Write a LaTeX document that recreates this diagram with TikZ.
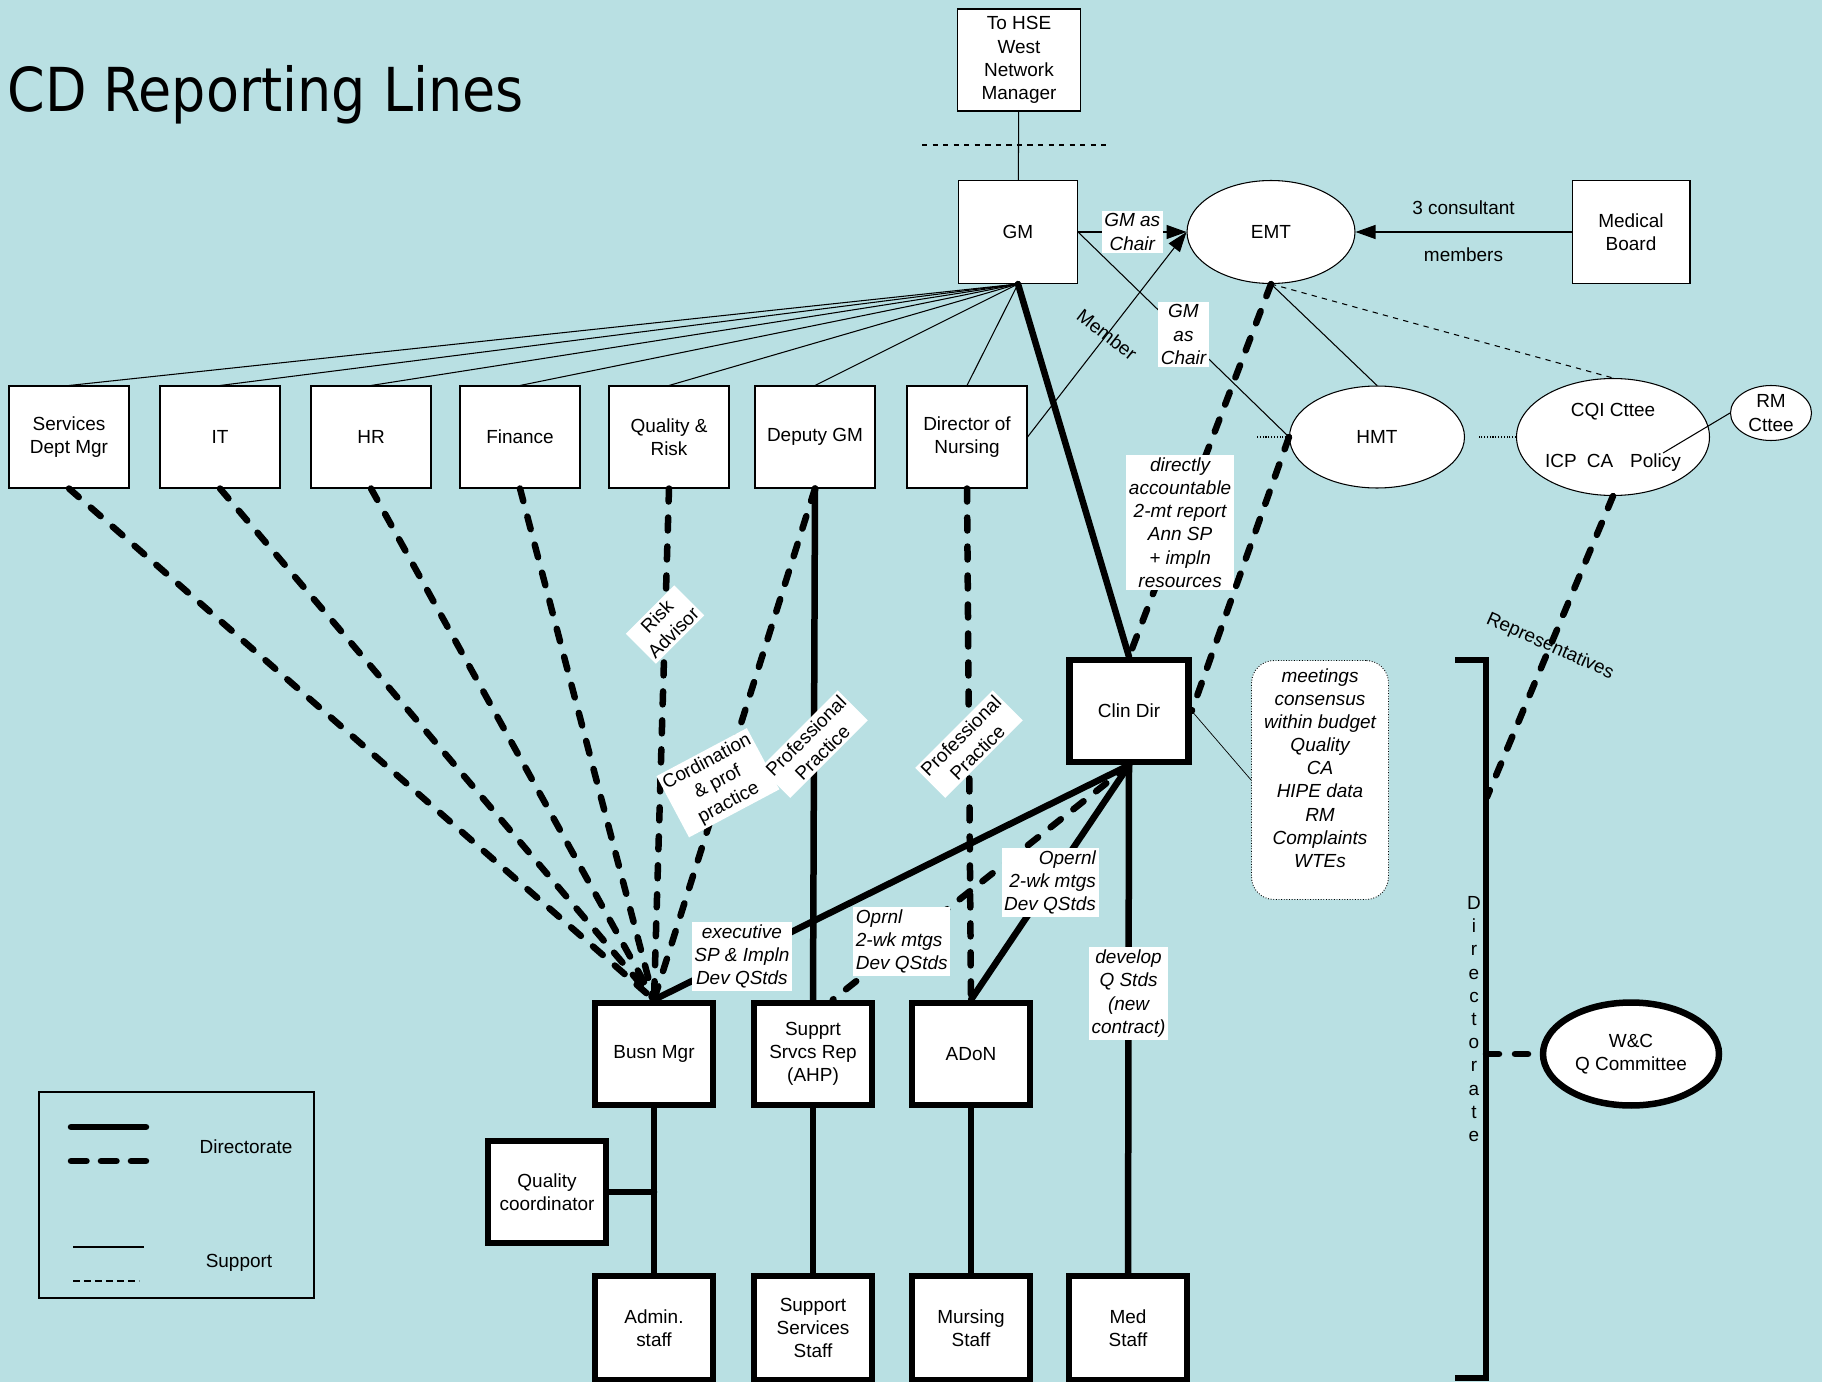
\documentclass[tikz,border=0pt]{standalone}
\usepackage{fontspec}
\setmainfont{Liberation Sans}
\newfontfamily\titlefont{DejaVu Sans}
\usetikzlibrary{shapes.geometric}
\usetikzlibrary{arrows.meta}
\definecolor{sheet}{RGB}{185,224,227}
\newcommand\cdfont{\fontsize{10.8}{13.2}\selectfont}

\begin{document}
\begin{tikzpicture}[x=0.02cm, y=-0.02cm, font=\cdfont,
	thinbox/.style={draw, line width=0.6pt, fill=white, align=center, inner sep=0pt, minimum width=2.4cm, minimum height=2.04cm},
	thickbox/.style={draw, line width=0.13cm, fill=white, align=center, inner sep=0pt, minimum width=2.36cm, minimum height=2.04cm},
	oval/.style={ellipse, draw, line width=0.6pt, fill=white, align=center, inner sep=0pt},
	tag/.style={fill=white, align=center, inner sep=1.5pt, font=\cdfont\itshape},
	plain/.style={fill=white, align=center, inner sep=1.5pt},
	supline/.style={line width=0.6pt},
	headed/.style={-{Triangle[length=0.4cm, width=0.28cm]}},
	dirline/.style={line width=0.13cm, line cap=round},
	dirdash/.style={line width=0.13cm, line cap=round, dash pattern=on 0.26cm off 0.32cm}]
	\fill[sheet] (0,0) rectangle (1822,1382);
	\useasboundingbox (0,0) rectangle (1822,1382);

	\node[anchor=west, inner sep=0pt] (title) at (7,95) {\titlefont\fontsize{34.5}{40}\selectfont\scalebox{0.89}[1]{CD Reporting Lines}};

	\node[thinbox, minimum width=2.46cm] (hse) at (1019,60) {To HSE\\West\\Network\\Manager};
	\node[thinbox, minimum width=2.38cm, minimum height=2.06cm] (gm) at (1018,232) {GM};
	\node[oval, minimum width=3.36cm, minimum height=2.06cm] (emt) at (1271,232) {EMT};
	\node[thinbox, minimum width=2.36cm, minimum height=2.06cm] (mb) at (1631,232) {Medical\\Board};

	\node[thinbox] (sdm) at (69,437) {Services\\Dept Mgr};
	\node[thinbox] (it) at (220,437) {IT};
	\node[thinbox] (hr) at (371,437) {HR};
	\node[thinbox] (fin) at (520,437) {Finance};
	\node[thinbox] (qr) at (669,437) {Quality \&\\Risk};
	\node[thinbox] (dgm) at (815,437) {Deputy GM};
	\node[thinbox] (don) at (967,437) {Director of\\Nursing};

	\node[oval, minimum width=3.5cm, minimum height=2.04cm] (hmt) at (1377,437) {HMT};
	\node[oval, minimum width=3.86cm, minimum height=2.34cm] (cqi) at (1613,437) {CQI Cttee\\[16pt]ICP\hspace{0.2cm}CA\hspace{0.34cm}Policy};
	\coordinate (pol) at (1663,453);
	\node[oval, minimum width=1.62cm, minimum height=1.1cm, label={[align=center]center:RM\\Cttee}] (rm) at (1771,413) {};

	\node[thickbox, minimum width=2.38cm] (cd) at (1129,711) {Clin Dir};
	\node[draw, densely dotted, line width=0.5pt, fill=white, rounded corners=0.45cm, minimum width=2.74cm, minimum height=4.78cm,
		label={[tag, fill=none, yshift=0.24cm]center:meetings\\consensus\\within budget\\Quality\\CA\\HIPE data\\RM\\Complaints\\WTEs}] (notes) at (1320,780) {};

	\node[thickbox] (busn) at (654,1054) {Busn Mgr};
	\node[thickbox] (sup) at (813,1054) {Supprt\\Srvcs Rep\\(AHP)};
	\node[thickbox] (adon) at (971,1054) {ADoN};
	\node[thickbox] (qc) at (547,1192) {Quality\\coordinator};
	\node[thickbox, minimum height=2.08cm] (admin) at (654,1328) {Admin.\\staff};
	\node[thickbox, minimum height=2.08cm] (sss) at (813,1328) {Support\\Services\\Staff};
	\node[thickbox, minimum height=2.08cm] (murs) at (971,1328) {Mursing\\Staff};
	\node[thickbox, minimum height=2.08cm] (med) at (1128,1328) {Med\\Staff};

	\node[oval, line width=0.13cm, minimum width=3.52cm, minimum height=2.06cm] (wc) at (1631,1054) {W\&C\\Q Committee};
	\coordinate (rep) at (1487,797);
	\coordinate (wcj) at (1486,1054);
	\node[align=center, inner sep=0pt] (dirtext) at (1474,1019) {D\\i\\r\\e\\c\\t\\o\\r\\a\\t\\e};

	\draw[supline] (gm) -- (hse);
	\draw[supline, dashed] (922,145) -- (1109,145);
	\foreach \n in {sdm,it,hr,fin,qr,dgm,don}
		\draw[supline] (gm.south) -- (\n.north);
	\draw[supline, headed] (gm.east) -- node[tag] {GM as\\Chair} (emt.west);
	\draw[supline] (gm.east) -- node[tag] {GM\\as\\Chair} (hmt.west);
	\draw[supline, headed] (don.east) -- node[rotate=-38] {Member} (emt.west);
	\draw[supline, headed] (mb) -- node[yshift=0.48cm] {3 consultant} node[yshift=-0.46cm] {members} (emt);
	\draw[supline] (emt.south) -- (hmt.north);
	\draw[supline, dashed] (emt.south) -- (cqi.north);
	\draw[supline, densely dotted] (hmt.west) -- ++(-33,0);
	\draw[supline, densely dotted] (cqi.west) -- ++(-37,0);
	\draw[supline] (rm.west) -- (pol);

	\draw[dirline] (gm.south) -- (cd.north);
	\draw[dirdash] (emt.south) -- node[tag, pos=0.64] {directly\\accountable\\2-mt report\\Ann SP\\+ impln\\resources} (cd.north);
	\draw[dirdash] (hmt.west) -- (cd.east);
	\draw[supline, line width=0.4pt] (cd.east) -- (notes.west);

	\draw[dirdash] (sdm.south) -- (busn.north);
	\draw[dirdash] (it.south) -- (busn.north);
	\draw[dirdash] (hr.south) -- (busn.north);
	\draw[dirdash] (fin.south) -- (busn.north);
	\draw[dirdash] (qr.south) -- node[plain, rotate=45, pos=0.266] {Risk\\Advisor} (busn.north);
	\draw[dirdash] (dgm.south) -- node[plain, rotate=28, pos=0.57, xshift=-0.12cm] {Cordination\\\& prof\\practice} (busn.north);
	\draw[dirline] (dgm.south) -- node[plain, rotate=45] {Professional\\Practice} (sup.north);
	\draw[dirdash] (don.south) -- node[plain, rotate=45] {Professional\\Practice} (adon.north);

	\draw[dirline] (cd.south) -- node[tag, pos=0.815] {executive\\SP \& Impln\\Dev QStds} (busn.north);
	\draw[dirdash] (cd.south) -- node[tag, align=left, pos=0.75, xshift=-0.1cm] {Oprnl\\2-wk mtgs\\Dev QStds} (sup.70);
	\draw[dirline] (cd.south) -- node[tag, align=right] {Opernl\\2-wk mtgs\\Dev QStds} (adon.north);
	\draw[dirline] (cd.south) -- node[tag, pos=0.45] {develop\\Q Stds\\(new\\contract)} (med.north);

	\draw[dirline] (busn.south) -- (admin.north);
	\draw[dirline] (qc.east) -- (qc.east -| busn.south);
	\draw[dirline] (sup.south) -- (sss.north);
	\draw[dirline] (adon.south) -- (murs.north);

	\draw[line width=0.13cm] (1455,660) -- (1486,660) -- (1486,1378) -- (1455,1378);
	\draw[dirdash] (cqi.south) -- node[rotate=-24] {Representatives} (rep);
	\draw[dirdash] (wcj) -- (wc.west);

	\draw[supline] (39,1092) rectangle (314,1298);
	\draw[dirline] (71,1127) -- (146,1127);
	\draw[dirdash, dash pattern=on 0.31cm off 0.29cm] (71,1161) -- (146,1161);
	\node (legdir) at (246,1147) {Directorate};
	\draw[line width=0.05cm] (73,1247) -- (144,1247);
	\draw[line width=0.05cm, dash pattern=on 0.15cm off 0.07cm] (73,1281) -- (139,1281);
	\node (legsup) at (239,1263) {Support};
\end{tikzpicture}
\end{document}
